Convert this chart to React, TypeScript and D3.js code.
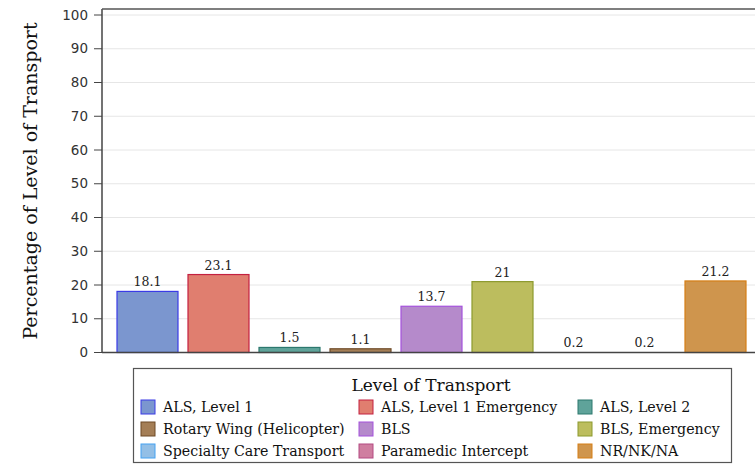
import React from "react";
import * as d3 from "d3";

const categories = [
  "ALS, Level 1",
  "ALS, Level 1 Emergency",
  "ALS, Level 2",
  "Rotary Wing (Helicopter)",
  "BLS",
  "BLS, Emergency",
  "Specialty Care Transport",
  "Paramedic Intercept",
  "NR/NK/NA",
];
const values = [18.1, 23.1, 1.5, 1.1, 13.7, 21, 0.2, 0.2, 21.2];
const fills = ["#7b96cf", "#e07e6f", "#5fa39a", "#a47e56", "#b58acb", "#bcbd5e", "#93bfe6", "#cf7ea0", "#cf954d"];
const strokes = ["#3b3be6", "#c42040", "#2c786e", "#6e4a26", "#a552dc", "#8c9a2e", "#45a2f2", "#b44a82", "#d67f16"];
const yTicks = [0, 10, 20, 30, 40, 50, 60, 70, 80, 90, 100];
const legendOrder = [0, 1, 2, 3, 4, 5, 6, 7, 8];

export default function App() {
  const W = 755, H = 464;
  const left = 102, top = 9, bottom = 352.5;
  const y = d3.scaleLinear().domain([0, 100]).range([bottom, 15]);
  const x = d3
    .scaleBand()
    .domain(categories)
    .range([112, 112 + 71 * 9])
    .paddingInner(10 / 71)
    .paddingOuter(5 / 71);
  const serif = "'DejaVu Serif', serif";
  const sans = "'DejaVu Sans', sans-serif";
  const legCols = [141, 359, 578];
  const legRows = [407, 429, 451];
  return (
    <svg width={W} height={H} style={{ position: "absolute", left: 0, top: 0, background: "#fff" }}>
      {yTicks.map((t) => (
        <line key={"g" + t} x1={left} x2={W} y1={y(t)} y2={y(t)} stroke="#e6e6e6" strokeWidth={1} />
      ))}
      {categories.map((c, i) => {
        const bx = x(c)!;
        const bw = x.bandwidth();
        const v = values[i];
        const h = bottom - y(v);
        return (
          <g key={c}>
            {h >= 1 && (
              <rect x={bx} y={y(v)} width={bw} height={h} fill={fills[i]} stroke={strokes[i]} strokeWidth={1.2} />
            )}
            <text x={bx + bw / 2} y={y(v) - 5} textAnchor="middle" fontFamily={serif} fontSize={12.5} fill="#222">
              {String(v)}
            </text>
          </g>
        );
      })}
      <line x1={left} x2={left} y1={top} y2={bottom} stroke="#444" strokeWidth={1.5} />
      <line x1={left} x2={W} y1={top} y2={top} stroke="#555" strokeWidth={1.5} />
      <line x1={left} x2={W} y1={bottom} y2={bottom} stroke="#444" strokeWidth={1.5} />
      {yTicks.map((t) => (
        <g key={"t" + t}>
          <line x1={94} x2={left} y1={y(t)} y2={y(t)} stroke="#444" strokeWidth={1} />
          <text x={88} y={y(t)} dy="0.35em" textAnchor="end" fontFamily={sans} fontSize={13.5} fill="#333">
            {t}
          </text>
        </g>
      ))}
      <text
        transform={`translate(37, ${(22 + 340) / 2}) rotate(-90)`}
        textAnchor="middle"
        fontFamily={serif}
        fontSize={19}
        fill="#111"
      >
        Percentage of Level of Transport
      </text>
      <rect x={133.5} y={368.5} width={598} height={94} fill="none" stroke="#555" strokeWidth={1.2} />
      <text x={431} y={391} textAnchor="middle" fontFamily={serif} fontSize={17} fill="#111">
        Level of Transport
      </text>
      {legendOrder.map((idx, k) => {
        const col = k % 3, row = Math.floor(k / 3);
        const lx = legCols[col], ly = legRows[row];
        return (
          <g key={"l" + idx}>
            <rect x={lx} y={ly - 7} width={14} height={14} fill={fills[idx]} stroke={strokes[idx]} strokeWidth={1} />
            <text x={lx + 22} y={ly} dy="0.35em" fontFamily={serif} fontSize={14.2} fill="#111">
              {categories[idx]}
            </text>
          </g>
        );
      })}
    </svg>
  );
}
